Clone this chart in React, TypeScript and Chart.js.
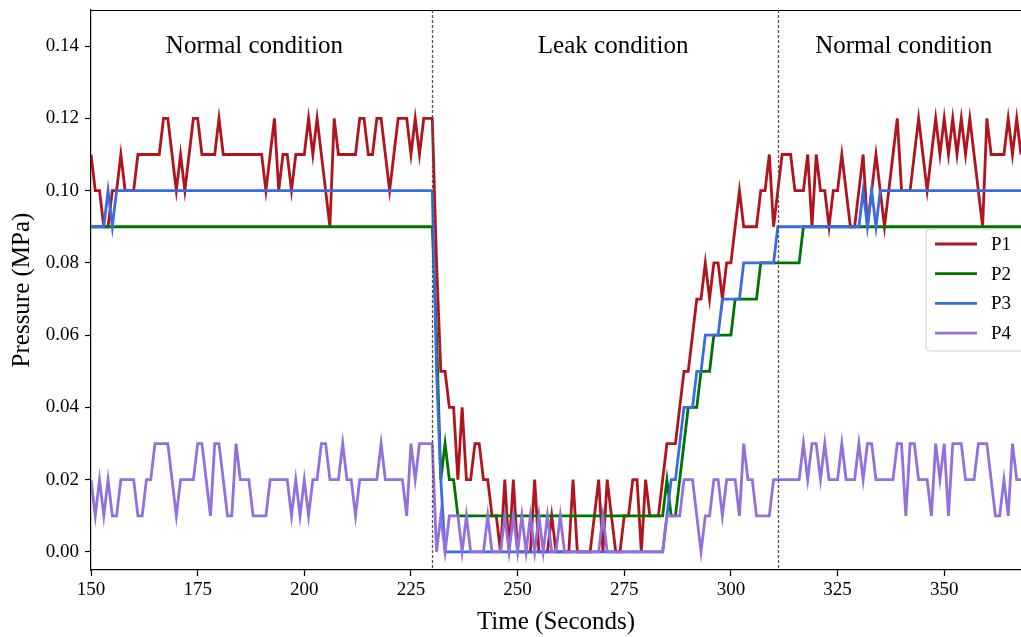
import React, { useEffect, useRef } from "react";
import { Chart, registerables } from "chart.js";

Chart.register(...registerables);

// Sample times: one reading per second starting at T_START
const T_START = 150;

// P1 pressure (MPa), t = 150 .. 368
const P1 = [
  0.11, 0.10, 0.10, 0.09, 0.09, 0.10, 0.10, 0.11, 0.10, 0.10,
  0.10, 0.11, 0.11, 0.11, 0.11, 0.11, 0.11, 0.12, 0.12, 0.11,
  0.10, 0.11, 0.10, 0.11, 0.12, 0.12, 0.11, 0.11, 0.11, 0.11,
  0.12, 0.11, 0.11, 0.11, 0.11, 0.11, 0.11, 0.11, 0.11, 0.11,
  0.11, 0.10, 0.11, 0.12, 0.10, 0.11, 0.11, 0.10, 0.11, 0.11,
  0.11, 0.12, 0.11, 0.12, 0.11, 0.10, 0.09, 0.12, 0.11, 0.11,
  0.11, 0.11, 0.11, 0.12, 0.12, 0.11, 0.11, 0.12, 0.12, 0.11,
  0.10, 0.11, 0.12, 0.12, 0.12, 0.11, 0.12, 0.11, 0.12, 0.12,
  0.12, 0.08, 0.05, 0.05, 0.04, 0.04, 0.02, 0.04, 0.02, 0.02,
  0.03, 0.03, 0.02, 0.02, 0.01, 0.01, 0.00, 0.02, 0.00, 0.02,
  0.00, 0.00, 0.00, 0.00, 0.02, 0.00, 0.00, 0.00, 0.01, 0.00,
  0.00, 0.00, 0.00, 0.02, 0.00, 0.00, 0.00, 0.00, 0.01, 0.02,
  0.00, 0.02, 0.01, 0.00, 0.00, 0.01, 0.01, 0.02, 0.02, 0.00,
  0.02, 0.01, 0.01, 0.01, 0.02, 0.03, 0.03, 0.03, 0.04, 0.05,
  0.05, 0.06, 0.07, 0.07, 0.08, 0.07, 0.08, 0.08, 0.07, 0.08,
  0.08, 0.09, 0.10, 0.09, 0.09, 0.09, 0.09, 0.10, 0.10, 0.11,
  0.09, 0.10, 0.11, 0.11, 0.11, 0.10, 0.10, 0.10, 0.11, 0.09,
  0.11, 0.10, 0.10, 0.09, 0.10, 0.10, 0.11, 0.10, 0.09, 0.09,
  0.10, 0.11, 0.09, 0.10, 0.11, 0.10, 0.09, 0.10, 0.11, 0.12,
  0.10, 0.10, 0.10, 0.11, 0.12, 0.11, 0.10, 0.11, 0.12, 0.11,
  0.12, 0.11, 0.12, 0.11, 0.12, 0.11, 0.12, 0.11, 0.10, 0.09,
  0.12, 0.11, 0.11, 0.11, 0.11, 0.12, 0.11, 0.12, 0.11,
];

// P2 pressure (MPa)
const P2 = [
  0.09, 0.09, 0.09, 0.09, 0.09, 0.09, 0.09, 0.09, 0.09, 0.09,
  0.09, 0.09, 0.09, 0.09, 0.09, 0.09, 0.09, 0.09, 0.09, 0.09,
  0.09, 0.09, 0.09, 0.09, 0.09, 0.09, 0.09, 0.09, 0.09, 0.09,
  0.09, 0.09, 0.09, 0.09, 0.09, 0.09, 0.09, 0.09, 0.09, 0.09,
  0.09, 0.09, 0.09, 0.09, 0.09, 0.09, 0.09, 0.09, 0.09, 0.09,
  0.09, 0.09, 0.09, 0.09, 0.09, 0.09, 0.09, 0.09, 0.09, 0.09,
  0.09, 0.09, 0.09, 0.09, 0.09, 0.09, 0.09, 0.09, 0.09, 0.09,
  0.09, 0.09, 0.09, 0.09, 0.09, 0.09, 0.09, 0.09, 0.09, 0.09,
  0.09, 0.06, 0.02, 0.03, 0.02, 0.02, 0.01, 0.01, 0.01, 0.01,
  0.01, 0.01, 0.01, 0.01, 0.01, 0.01, 0.01, 0.01, 0.01, 0.01,
  0.01, 0.01, 0.01, 0.01, 0.01, 0.01, 0.01, 0.01, 0.01, 0.01,
  0.01, 0.01, 0.01, 0.01, 0.01, 0.01, 0.01, 0.01, 0.01, 0.01,
  0.01, 0.01, 0.01, 0.01, 0.01, 0.01, 0.01, 0.01, 0.01, 0.01,
  0.01, 0.01, 0.01, 0.01, 0.01, 0.02, 0.01, 0.01, 0.02, 0.03,
  0.04, 0.04, 0.04, 0.05, 0.05, 0.05, 0.06, 0.06, 0.06, 0.06,
  0.06, 0.07, 0.07, 0.07, 0.07, 0.07, 0.07, 0.08, 0.08, 0.08,
  0.08, 0.08, 0.08, 0.08, 0.08, 0.08, 0.08, 0.09, 0.09, 0.09,
  0.09, 0.09, 0.09, 0.09, 0.09, 0.09, 0.09, 0.09, 0.09, 0.09,
  0.09, 0.09, 0.09, 0.09, 0.09, 0.09, 0.09, 0.09, 0.09, 0.09,
  0.09, 0.09, 0.09, 0.09, 0.09, 0.09, 0.09, 0.09, 0.09, 0.09,
  0.09, 0.09, 0.09, 0.09, 0.09, 0.09, 0.09, 0.09, 0.09, 0.09,
  0.09, 0.09, 0.09, 0.09, 0.09, 0.09, 0.09, 0.09, 0.09,
];

// P3 pressure (MPa)
const P3 = [
  0.09, 0.09, 0.09, 0.09, 0.10, 0.09, 0.10, 0.10, 0.10, 0.10,
  0.10, 0.10, 0.10, 0.10, 0.10, 0.10, 0.10, 0.10, 0.10, 0.10,
  0.10, 0.10, 0.10, 0.10, 0.10, 0.10, 0.10, 0.10, 0.10, 0.10,
  0.10, 0.10, 0.10, 0.10, 0.10, 0.10, 0.10, 0.10, 0.10, 0.10,
  0.10, 0.10, 0.10, 0.10, 0.10, 0.10, 0.10, 0.10, 0.10, 0.10,
  0.10, 0.10, 0.10, 0.10, 0.10, 0.10, 0.10, 0.10, 0.10, 0.10,
  0.10, 0.10, 0.10, 0.10, 0.10, 0.10, 0.10, 0.10, 0.10, 0.10,
  0.10, 0.10, 0.10, 0.10, 0.10, 0.10, 0.10, 0.10, 0.10, 0.10,
  0.10, 0.05, 0.02, 0.00, 0.00, 0.00, 0.00, 0.00, 0.00, 0.00,
  0.00, 0.00, 0.00, 0.00, 0.00, 0.00, 0.00, 0.00, 0.00, 0.00,
  0.00, 0.00, 0.00, 0.00, 0.00, 0.00, 0.00, 0.00, 0.00, 0.00,
  0.00, 0.00, 0.00, 0.00, 0.00, 0.00, 0.00, 0.00, 0.00, 0.00,
  0.00, 0.00, 0.00, 0.00, 0.00, 0.00, 0.00, 0.00, 0.00, 0.00,
  0.00, 0.00, 0.00, 0.00, 0.00, 0.01, 0.02, 0.02, 0.03, 0.04,
  0.04, 0.04, 0.05, 0.05, 0.06, 0.06, 0.06, 0.06, 0.07, 0.07,
  0.07, 0.07, 0.07, 0.08, 0.08, 0.08, 0.08, 0.08, 0.08, 0.08,
  0.08, 0.09, 0.09, 0.09, 0.09, 0.09, 0.09, 0.09, 0.09, 0.09,
  0.09, 0.09, 0.09, 0.09, 0.09, 0.09, 0.09, 0.09, 0.09, 0.09,
  0.09, 0.10, 0.09, 0.10, 0.09, 0.10, 0.10, 0.10, 0.10, 0.10,
  0.10, 0.10, 0.10, 0.10, 0.10, 0.10, 0.10, 0.10, 0.10, 0.10,
  0.10, 0.10, 0.10, 0.10, 0.10, 0.10, 0.10, 0.10, 0.10, 0.10,
  0.10, 0.10, 0.10, 0.10, 0.10, 0.10, 0.10, 0.10, 0.10,
];

// P4 pressure (MPa)
const P4 = [
  0.02, 0.01, 0.02, 0.01, 0.02, 0.01, 0.01, 0.02, 0.02, 0.02,
  0.02, 0.01, 0.01, 0.02, 0.02, 0.03, 0.03, 0.03, 0.03, 0.02,
  0.01, 0.02, 0.02, 0.02, 0.02, 0.03, 0.03, 0.02, 0.01, 0.03,
  0.03, 0.02, 0.01, 0.01, 0.03, 0.02, 0.02, 0.02, 0.01, 0.01,
  0.01, 0.01, 0.02, 0.02, 0.02, 0.02, 0.02, 0.01, 0.02, 0.01,
  0.02, 0.01, 0.02, 0.02, 0.03, 0.03, 0.02, 0.02, 0.02, 0.03,
  0.02, 0.02, 0.01, 0.02, 0.02, 0.02, 0.02, 0.02, 0.03, 0.02,
  0.02, 0.02, 0.02, 0.02, 0.01, 0.03, 0.02, 0.03, 0.03, 0.03,
  0.03, 0.00, 0.01, 0.00, 0.01, 0.01, 0.01, 0.00, 0.01, 0.00,
  0.00, 0.00, 0.00, 0.01, 0.00, 0.00, 0.00, 0.01, 0.00, 0.01,
  0.00, 0.01, 0.00, 0.01, 0.00, 0.01, 0.00, 0.01, 0.00, 0.00,
  0.01, 0.00, 0.00, 0.00, 0.00, 0.00, 0.00, 0.00, 0.00, 0.00,
  0.01, 0.00, 0.00, 0.00, 0.00, 0.00, 0.00, 0.00, 0.00, 0.00,
  0.00, 0.00, 0.00, 0.00, 0.00, 0.01, 0.01, 0.01, 0.01, 0.02,
  0.02, 0.02, 0.01, 0.00, 0.01, 0.01, 0.02, 0.02, 0.01, 0.02,
  0.02, 0.02, 0.01, 0.03, 0.02, 0.02, 0.01, 0.01, 0.01, 0.01,
  0.02, 0.02, 0.02, 0.02, 0.02, 0.02, 0.02, 0.03, 0.02, 0.03,
  0.03, 0.02, 0.03, 0.02, 0.02, 0.02, 0.03, 0.02, 0.02, 0.02,
  0.03, 0.02, 0.03, 0.03, 0.02, 0.02, 0.02, 0.02, 0.02, 0.03,
  0.03, 0.01, 0.03, 0.03, 0.02, 0.02, 0.02, 0.01, 0.03, 0.02,
  0.03, 0.01, 0.03, 0.03, 0.03, 0.02, 0.02, 0.02, 0.03, 0.03,
  0.03, 0.02, 0.01, 0.01, 0.02, 0.01, 0.03, 0.02, 0.02,
];

const SERIES_NAMES = ["P1", "P2", "P3", "P4"];
const SERIES_COLORS = ["#b0141c", "#007400", "#3a6be0", "#9370db"];
const X_TICKS = [150, 175, 200, 225, 250, 275, 300, 325, 350];
const Y_TICKS = [0, 0.02, 0.04, 0.06, 0.08, 0.1, 0.12, 0.14];
const X_MIN = 150;
const X_MAX = 368;
const Y_MIN = -0.005;
const Y_MAX = 0.15;
const V_LINES = [230, 311];
const REGION_TEXT = ["Normal condition", "Leak condition", "Normal condition"];
const REGION_X = [188.3, 272.4, 340.5];
const REGION_Y = 0.14;

const SERIF = '"Liberation Serif", "Times New Roman", serif';

function toPoints(values: number[]) {
  return values.map((v, i) => ({ x: T_START + i, y: v }));
}

const overlayPlugin = {
  id: "overlay",
  afterDatasetsDraw(chart: any) {
    const { ctx, chartArea, scales } = chart;
    const xs = scales.x;
    const ys = scales.y;
    ctx.save();
    // top spine
    ctx.strokeStyle = "#000";
    ctx.lineWidth = 1.2;
    ctx.beginPath();
    ctx.moveTo(chartArea.left, chartArea.top + 0.5);
    ctx.lineTo(chartArea.right, chartArea.top + 0.5);
    ctx.stroke();
    // dashed separators
    ctx.setLineDash([3, 2]);
    ctx.strokeStyle = "#555";
    ctx.lineWidth = 1.3;
    for (const v of V_LINES) {
      const px = Math.round(xs.getPixelForValue(v)) + 0.5;
      ctx.beginPath();
      ctx.moveTo(px, chartArea.top);
      ctx.lineTo(px, chartArea.bottom);
      ctx.stroke();
    }
    ctx.setLineDash([]);
    // region labels
    ctx.fillStyle = "#000";
    ctx.font = `25px ${SERIF}`;
    ctx.textAlign = "center";
    ctx.textBaseline = "middle";
    REGION_TEXT.forEach((t, i) => {
      ctx.fillText(t, xs.getPixelForValue(REGION_X[i]), ys.getPixelForValue(REGION_Y));
    });
    // legend
    const lx = chartArea.right - 95;
    const ly = 229;
    const lw = 120;
    const lh = 122;
    const r = 4;
    ctx.fillStyle = "rgba(255,255,255,0.85)";
    ctx.strokeStyle = "#d0d0d0";
    ctx.lineWidth = 1;
    ctx.beginPath();
    ctx.moveTo(lx + r, ly);
    ctx.lineTo(lx + lw - r, ly);
    ctx.arcTo(lx + lw, ly, lx + lw, ly + r, r);
    ctx.lineTo(lx + lw, ly + lh - r);
    ctx.arcTo(lx + lw, ly + lh, lx + lw - r, ly + lh, r);
    ctx.lineTo(lx + r, ly + lh);
    ctx.arcTo(lx, ly + lh, lx, ly + lh - r, r);
    ctx.lineTo(lx, ly + r);
    ctx.arcTo(lx, ly, lx + r, ly, r);
    ctx.closePath();
    ctx.fill();
    ctx.stroke();
    ctx.font = `19px ${SERIF}`;
    ctx.textAlign = "left";
    ctx.textBaseline = "middle";
    SERIES_NAMES.forEach((name, i) => {
      const yy = ly + 15 + i * 29.7;
      ctx.strokeStyle = SERIES_COLORS[i];
      ctx.lineWidth = 2.8;
      ctx.beginPath();
      ctx.moveTo(lx + 9, yy);
      ctx.lineTo(lx + 51, yy);
      ctx.stroke();
      ctx.fillStyle = "#000";
      ctx.fillText(name, lx + 65, yy + 1);
    });
    ctx.restore();
  },
};

export default function App() {
  const canvasRef = useRef<HTMLCanvasElement | null>(null);

  useEffect(() => {
    const canvas = canvasRef.current;
    if (!canvas) return;
    const seriesValues = [P1, P2, P3, P4];
    const chart = new Chart(canvas, {
      type: "line",
      data: {
        datasets: seriesValues.map((vals, i) => ({
          label: SERIES_NAMES[i],
          data: toPoints(vals),
          borderColor: SERIES_COLORS[i],
          backgroundColor: SERIES_COLORS[i],
          borderWidth: 2.8,
          pointRadius: 0,
          tension: 0,
          fill: false,
          order: 4 - i,
        })),
      },
      options: {
        animation: false,
        responsive: false,
        maintainAspectRatio: false,
        layout: { padding: { top: 10, right: 0, left: 0, bottom: 0 } },
        plugins: {
          legend: { display: false },
          tooltip: { enabled: false },
        },
        scales: {
          x: {
            type: "linear",
            min: X_MIN,
            max: X_MAX,
            afterBuildTicks: (scale: any) => {
              scale.ticks = X_TICKS.map((v) => ({ value: v }));
            },
            afterFit: (scale: any) => {
              scale.height = 67;
              scale.paddingLeft = 0;
              scale.paddingRight = 0;
            },
            grid: {
              drawOnChartArea: false,
              drawTicks: true,
              tickLength: 6,
              tickWidth: 1.2,
              tickColor: "#000",
            },
            border: { display: true, color: "#000", width: 1.2 },
            ticks: {
              color: "#000",
              padding: 3,
              maxRotation: 0,
              font: { family: SERIF, size: 19 },
              callback: (v: any) => String(v),
            },
            title: {
              display: true,
              text: "Time (Seconds)",
              color: "#000",
              font: { family: SERIF, size: 25, lineHeight: 1.2 },
              padding: { top: 0, bottom: 0 },
            },
          },
          y: {
            type: "linear",
            min: Y_MIN,
            max: Y_MAX,
            afterBuildTicks: (scale: any) => {
              scale.ticks = Y_TICKS.map((v) => ({ value: v }));
            },
            afterFit: (scale: any) => {
              scale.width = 91;
              scale.paddingTop = 0;
              scale.paddingBottom = 0;
            },
            grid: {
              drawOnChartArea: false,
              drawTicks: true,
              tickLength: 6,
              tickWidth: 1.2,
              tickColor: "#000",
            },
            border: { display: true, color: "#000", width: 1.2 },
            ticks: {
              color: "#000",
              padding: 6,
              font: { family: SERIF, size: 19 },
              callback: (v: any) => Number(v).toFixed(2),
            },
            title: {
              display: true,
              text: "Pressure (MPa)",
              color: "#000",
              font: { family: SERIF, size: 25, lineHeight: 1.2 },
              padding: { top: 7, bottom: 0 },
            },
          },
        },
      },
      plugins: [overlayPlugin],
    } as any);
    return () => chart.destroy();
  }, []);

  return (
    <div style={{ position: "fixed", left: 0, top: 0, width: 1021, height: 637, background: "#fff" }}>
      <canvas ref={canvasRef} width={1021} height={637} style={{ display: "block", width: 1021, height: 637 }} />
    </div>
  );
}
